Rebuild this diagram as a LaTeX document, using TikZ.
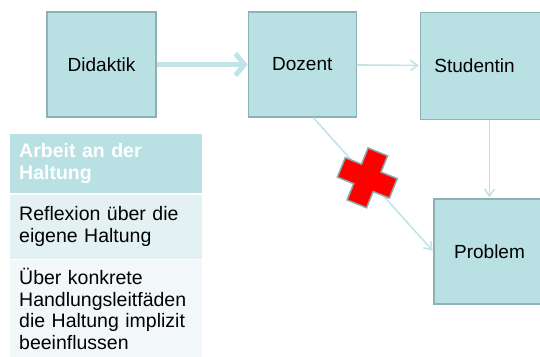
\documentclass[tikz,border=0pt]{standalone}
\usepackage{fontspec}
\setmainfont{Liberation Sans}
\usetikzlibrary{arrows.meta, positioning}

\definecolor{boxfill}{HTML}{B9E0E3}
\definecolor{boxline}{HTML}{8DB2B5}
\definecolor{arrowcol}{HTML}{C3E4E7}
\definecolor{rowone}{HTML}{E3F1F3}
\definecolor{rowtwo}{HTML}{F2F8F9}

\begin{document}
\begin{tikzpicture}[x=1pt,y=-1pt,>={Straight Barb[length=7pt,width=10pt]},
  main node/.style={rectangle,draw=boxline,fill=boxfill,line width=1.3pt,
    minimum width=108pt,minimum height=105pt,font=\fontsize{19}{22}\selectfont},
  cell/.style={rectangle,inner xsep=9pt,inner ysep=0pt,text width=174pt,align=left,
    font=\fontsize{19.5}{21.8}\selectfont},
  thin link/.style={->,draw=arrowcol,line width=1.6pt,shorten >=1pt}]

  \useasboundingbox (0,0) rectangle (540,356);

  \node[main node, minimum width=109pt] (didaktik) at (101.5,64.5) {Didaktik};
  \node[main node] (dozent) [right=91pt of didaktik] {Dozent};
  \node[main node, minimum width=126pt, minimum height=107pt] (studentin) [right=63pt of dozent, yshift=-1.5pt] {Studentin\hspace*{18pt}};
  \node[main node, minimum width=111pt] (problem) at (489.5,251.5) {Problem};

  % Arbeit an der Haltung
  \node[cell, fill=boxfill, text=white, minimum height=59pt, anchor=north west, font=\fontsize{19.5}{22.5}\selectfont\bfseries] (head) at (10,134) {Arbeit an der\\Haltung};
  \node[cell, fill=rowone, minimum height=64pt] (reflexion) [below=1pt of head] {Reflexion über die\\eigene Haltung};
  \node[cell, fill=rowtwo, minimum height=98pt] (handlung) [below=1pt of reflexion] {Über konkrete\\Handlungsleitfäden\\die Haltung implizit\\beeinflussen};

  \path
    (didaktik) edge[->,draw=arrowcol,line width=5pt,
      -{Straight Barb[length=9pt,width=22pt]}] (dozent)
    (dozent) edge[thin link] (studentin)
    (problem.north |- studentin.south) edge[thin link] (problem.north)
    ([xshift=11pt]dozent.south) edge[thin link] coordinate[pos=0.45] (cut) (problem.west);

  % Kreuz
  \begin{scope}[shift={(cut)}, rotate=-22]
    \draw[fill=red, draw=boxline!80!gray, line width=1.5pt]
      (-10.5,-28) -- (10.5,-28) -- (10.5,-10.5) -- (28,-10.5) -- (28,10.5) -- (10.5,10.5)
      -- (10.5,28) -- (-10.5,28) -- (-10.5,10.5) -- (-28,10.5) -- (-28,-10.5) -- (-10.5,-10.5) -- cycle;
  \end{scope}
\end{tikzpicture}
\end{document}
